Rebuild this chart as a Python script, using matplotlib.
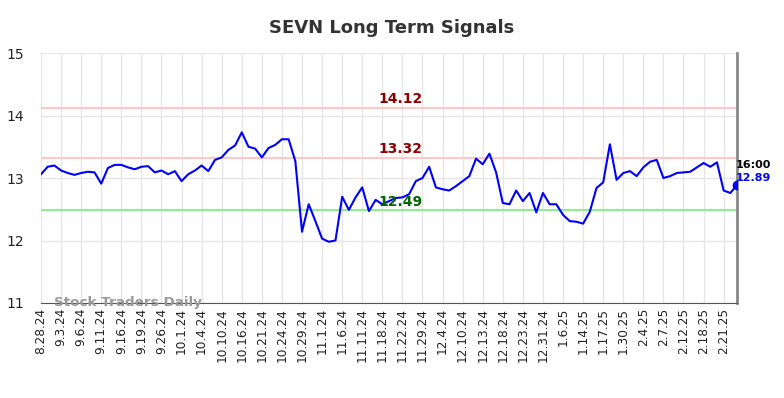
import matplotlib
matplotlib.use('Agg')
import matplotlib.pyplot as plt

# tick dates (one every 3 points)
tick_labels = ['8.28.24', '9.3.24', '9.6.24', '9.11.24', '9.16.24', '9.19.24', '9.26.24',
               '10.1.24', '10.4.24', '10.10.24', '10.16.24', '10.21.24', '10.24.24',
               '10.29.24', '11.1.24', '11.6.24', '11.11.24', '11.18.24', '11.22.24',
               '11.29.24', '12.4.24', '12.10.24', '12.13.24', '12.18.24', '12.23.24',
               '12.31.24', '1.6.25', '1.14.25', '1.17.25', '1.30.25', '2.4.25', '2.7.25',
               '2.12.25', '2.18.25', '2.21.25']

# closing prices
prices = [13.06, 13.18, 13.20, 13.12, 13.08, 13.05, 13.08, 13.10, 13.09, 12.91,
          13.16, 13.21, 13.21, 13.17, 13.14, 13.18, 13.19, 13.09, 13.12, 13.06,
          13.11, 12.95, 13.06, 13.12, 13.20, 13.11, 13.29, 13.33, 13.45, 13.52,
          13.73, 13.50, 13.47, 13.33, 13.48, 13.53, 13.62, 13.62, 13.27, 12.14,
          12.58, 12.31, 12.03, 11.98, 12.00, 12.70, 12.49, 12.69, 12.85, 12.47,
          12.65, 12.58, 12.63, 12.68, 12.69, 12.74, 12.95, 13.00, 13.18, 12.85,
          12.82, 12.80, 12.87, 12.95, 13.03, 13.31, 13.22, 13.39, 13.09, 12.60,
          12.58, 12.80, 12.63, 12.76, 12.45, 12.76, 12.58, 12.58, 12.41, 12.31,
          12.30, 12.27, 12.46, 12.84, 12.93, 13.54, 12.97, 13.08, 13.11, 13.03,
          13.17, 13.26, 13.29, 13.00, 13.03, 13.08, 13.09, 13.10, 13.17, 13.24,
          13.18, 13.25, 12.80, 12.76, 12.89]

resistance = [14.12, 13.32]
support = 12.49
last_time = '16:00'

x = list(range(len(prices)))
tick_pos = list(range(0, len(tick_labels) * 3, 3))

fig = plt.figure(figsize=(7.84, 3.98), dpi=100)
ax = fig.add_axes([0.0523, 0.2387, 0.8878, 0.6281])

for r in resistance:
    ax.axhline(r, color='#ffc8c8', lw=1.5, zorder=1)
    ax.text(53.7, r + 0.03, f'{r:.2f}', color='#8b0000', fontsize=10, fontweight='bold',
            ha='center', va='bottom', zorder=4)
ax.axhline(support, color='#90ee90', lw=1.5, zorder=1)
ax.text(53.7, support + 0.01, f'{support:.2f}', color='#006400', fontsize=10, fontweight='bold',
        ha='center', va='bottom', zorder=4)

ax.plot(x, prices, color='#0000ff', lw=1.5, zorder=3)
ax.plot(x[-1], prices[-1], 'o', color='#0000ff', ms=6, zorder=5)

ax.text(x[-1] - 0.2, prices[-1] + 0.32, last_time, color='black', fontsize=8,
        fontweight='bold', ha='left', va='center')
ax.text(x[-1] - 0.2, prices[-1] + 0.11, f'{prices[-1]:.2f}', color='#0000ff', fontsize=8,
        fontweight='bold', ha='left', va='center')

ax.text(2, 11.0, 'Stock Traders Daily', color='#999999', fontsize=9.7, fontweight='bold',
        ha='left', va='center', zorder=6)

ax.set_xlim(0, len(prices) - 1)
ax.set_ylim(11, 15)
ax.set_yticks([11, 12, 13, 14, 15])
ax.set_xticks(tick_pos)
ax.set_xticklabels(tick_labels, rotation=90, fontsize=8.7)
ax.tick_params(axis='both', length=0, colors='#222222')
ax.tick_params(axis='y', labelsize=10, pad=12)
ax.grid(True, color='#e6e6e6', lw=1)
ax.set_axisbelow(True)

ax.spines['top'].set_visible(False)
ax.spines['left'].set_visible(False)
ax.spines['bottom'].set_color('#555555')
ax.spines['right'].set_color('#888888')
ax.spines['right'].set_linewidth(2)

fig.suptitle('SEVN Long Term Signals', fontsize=13, fontweight='bold', color='#333333', y=0.952)

fig.savefig('out.png', dpi=100)
